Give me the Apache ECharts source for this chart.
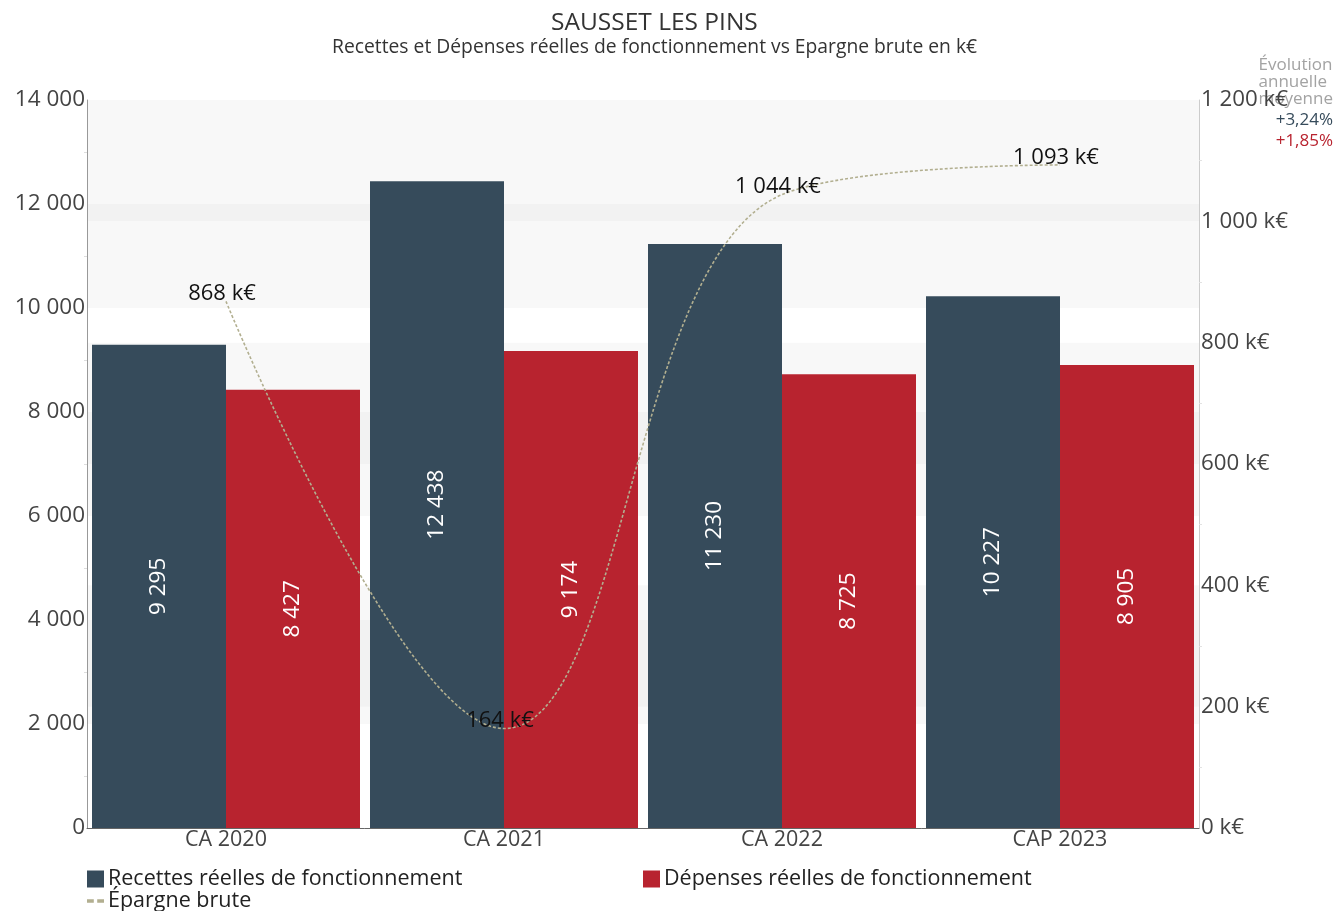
<!DOCTYPE html>
<html>
<head>
<meta charset="utf-8">
<script src="https://cdn.jsdelivr.net/npm/echarts@6/dist/echarts.min.js"></script>
<style>
  html, body { margin: 0; padding: 0; background: #fff; }
  #chart { width: 1335px; height: 911px; }
</style>
</head>
<body>
<div id="chart"></div>
<script>
// Comptes administratifs de Sausset-les-Pins (k€)
const categories = ['CA 2020', 'CA 2021', 'CA 2022', 'CAP 2023'];
const recettes = [9295, 12438, 11230, 10227];
const depenses = [8427, 9174, 8725, 8905];
const epargne = [868, 164, 1044, 1093];
const evolution = ['+3,24%', '+1,85%'];

const FONT = 'Open Sans';
const C_REC = '#364b5b';
const C_DEP = '#b8232f';
const C_EPA = '#b2af90';

// Thousands separated with a space, as in French notation
function fmt(v) {
  return String(Math.round(v)).replace(/\B(?=(\d{3})+(?!\d))/g, ' ');
}

const chart = echarts.init(document.getElementById('chart'));

const bandColors = ['rgba(0,0,0,0)', 'rgba(0,0,0,0.028)'];
const legendText = { fontFamily: FONT, fontSize: 21.5, color: '#222', padding: [0, 0, 0, -1] };

chart.setOption({
  animation: false,
  textStyle: { fontFamily: FONT },
  title: [
    {
      text: 'SAUSSET LES PINS',
      left: 546, top: 6,
      textStyle: { fontFamily: FONT, fontSize: 24.5, fontWeight: 'normal', color: '#333' }
    },
    {
      text: 'Recettes et Dépenses réelles de fonctionnement vs Epargne brute en k€',
      left: 327, top: 33,
      textStyle: { fontFamily: FONT, fontSize: 19.3, fontWeight: 'normal', color: '#333' }
    }
  ],
  graphic: [
    {
      type: 'text', right: 2, top: 57,
      style: {
        text: 'Évolution\nannuelle\nmoyenne', align: 'right',
        font: '17px "Open Sans"', fill: '#a3a3a3', lineHeight: 17
      }
    },
    {
      type: 'text', right: 2, top: 112,
      style: { text: evolution[0], align: 'right', font: '17px "Open Sans"', fill: C_REC }
    },
    {
      type: 'text', right: 2, top: 133,
      style: { text: evolution[1], align: 'right', font: '17px "Open Sans"', fill: C_DEP }
    }
  ],
  legend: [
    {
      left: 87, top: 868, padding: 0, itemWidth: 17, itemHeight: 17, icon: 'rect',
      textStyle: legendText,
      data: ['Recettes réelles de fonctionnement']
    },
    {
      left: 643, top: 868, padding: 0, itemWidth: 17, itemHeight: 17, icon: 'rect',
      textStyle: legendText,
      data: ['Dépenses réelles de fonctionnement']
    },
    {
      left: 87, top: 890, padding: 0, itemWidth: 17, itemHeight: 17,
      textStyle: legendText,
      data: [{
        name: 'Épargne brute',
        icon: 'path://M0,7h6v3h-6z M9,7h6v3h-6z',
        itemStyle: { color: C_EPA, opacity: 1 }
      }]
    }
  ],
  grid: { left: 87, right: 136, top: 100, bottom: 83, containLabel: false },
  xAxis: {
    type: 'category',
    data: categories,
    axisTick: { show: false },
    axisLine: { lineStyle: { color: '#666', width: 1 } },
    axisLabel: { fontFamily: FONT, fontSize: 21.5, color: '#444', margin: 1 }
  },
  yAxis: [
    {
      type: 'value', min: 0, max: 14000, interval: 2000,
      axisLine: { show: true, lineStyle: { color: '#999' } },
      axisTick: { show: false },
      minorTick: { show: true, splitNumber: 2, length: 3, lineStyle: { color: '#ddd' } },
      splitLine: { show: false },
      splitArea: { show: true, areaStyle: { color: bandColors } },
      axisLabel: { fontFamily: FONT, fontSize: 22.5, color: '#444', margin: 2, formatter: fmt }
    },
    {
      type: 'value', min: 0, max: 1200, interval: 200, position: 'right',
      axisLine: { show: true, lineStyle: { color: '#ccc' } },
      axisTick: { show: false },
      minorTick: { show: true, splitNumber: 2, length: 3, lineStyle: { color: '#e2e2e2' } },
      splitLine: { show: false },
      splitArea: { show: true, areaStyle: { color: bandColors } },
      axisLabel: {
        fontFamily: FONT, fontSize: 22.3, color: '#444', margin: 2,
        formatter: v => fmt(v) + ' k€'
      }
    }
  ],
  series: [
    {
      name: 'Recettes réelles de fonctionnement',
      type: 'bar', data: recettes, barWidth: 134, barGap: '0%',
      itemStyle: { color: C_REC },
      label: {
        show: true, position: 'inside', rotate: 90, color: '#fff',
        fontFamily: FONT, fontSize: 22.5, formatter: p => fmt(p.value)
      }
    },
    {
      name: 'Dépenses réelles de fonctionnement',
      type: 'bar', data: depenses, barWidth: 134, barGap: '0%',
      itemStyle: { color: C_DEP },
      label: {
        show: true, position: 'inside', rotate: 90, color: '#fff',
        fontFamily: FONT, fontSize: 22.5, formatter: p => fmt(p.value)
      }
    },
    {
      name: 'Épargne brute',
      type: 'line', yAxisIndex: 1, data: epargne, smooth: 0.4,
      symbol: 'circle', symbolSize: 1, showSymbol: true,
      itemStyle: { color: 'rgba(0,0,0,0)' },
      lineStyle: { color: C_EPA, width: 1.6, type: [3, 2] },
      z: 5,
      label: {
        show: true, position: 'top', distance: -4, offset: [-4, 0], color: '#111',
        fontFamily: FONT, fontSize: 22, formatter: p => fmt(p.value) + ' k€'
      }
    }
  ]
});
</script>
</body>
</html>
